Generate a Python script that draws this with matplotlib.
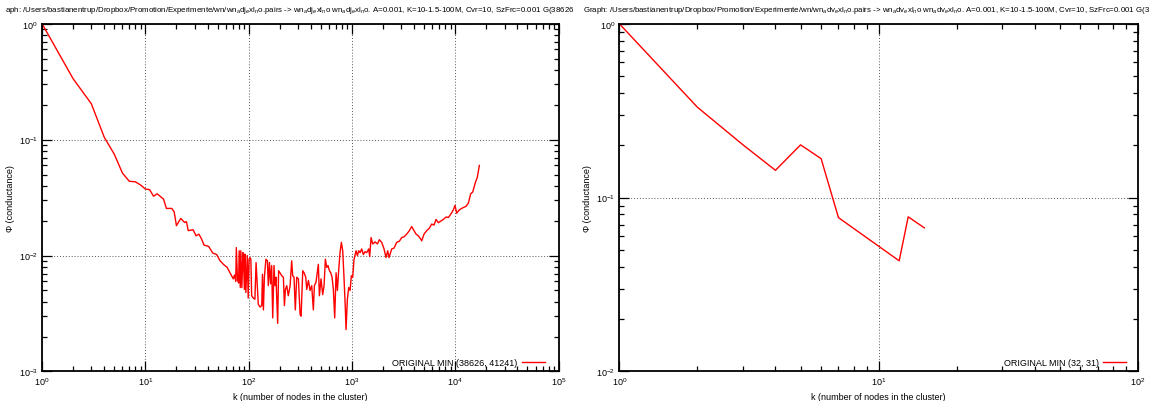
import matplotlib
matplotlib.use("Agg")
import matplotlib.pyplot as plt
import matplotlib.ticker as mticker

RED = "#ff0000"
INK = "#000000"

plt.rcParams.update({
    "font.family": ["Liberation Sans", "DejaVu Sans"],
    "mathtext.fontset": "custom",
    "mathtext.rm": "Liberation Sans",
    "mathtext.it": "Liberation Sans:italic",
    "mathtext.bf": "Liberation Sans:bold",
    "text.color": INK,
    "font.size": 6.5,
})

# left panel: adjective graph
left_k = [
    1, 2, 3, 4, 5, 6, 7, 8, 9, 10,
    11, 12, 13, 15, 16, 18, 19, 20, 22, 24,
    25, 26, 29, 31, 33, 35, 37, 41, 45, 49,
    53, 57, 62, 66, 71, 73, 75, 76, 78, 80,
    81, 83, 84, 86, 88, 89, 91, 92, 94, 97,
    99, 101, 103, 105, 107, 111, 115, 118, 124, 129,
    134, 136, 139, 142, 147, 152, 155, 159, 163, 167,
    171, 176, 180, 184, 191, 195, 201, 209, 217, 222,
    227, 234, 242, 252, 261, 267, 275, 283, 292, 303,
    315, 322, 334, 344, 357, 365, 379, 393, 408, 423,
    433, 449, 473, 484, 502, 521, 537, 553, 570, 587,
    605, 623, 642, 661, 681, 702, 723, 745, 767, 790,
    814, 839, 864, 877, 903, 930, 959, 987, 1017, 1048,
    1096, 1129, 1163, 1198, 1243, 1290, 1339, 1390, 1453, 1486,
    1531, 1589, 1673, 1763, 1843, 1941, 2045, 2138, 2219, 2286,
    2426, 2556, 2713, 2879, 3031, 3193, 3388, 3596, 3788, 3932,
    4173, 4395, 4629, 4734, 4986, 5292, 5617, 5914, 6230, 6515,
    6862, 7228, 7671, 8142, 8575, 9101, 9585, 9948, 10325, 10958,
    11803, 12719, 13395, 14109, 14750, 15537, 16366, 17115,
]
left_phi = [
    1.0, 0.335, 0.204, 0.105, 0.075, 0.0515, 0.0437, 0.0433, 0.0406, 0.0375,
    0.037, 0.0325, 0.0341, 0.0307, 0.0255, 0.0255, 0.0239, 0.0181, 0.0209, 0.0193,
    0.0196, 0.0164, 0.0167, 0.0148, 0.0153, 0.0139, 0.0123, 0.0120, 0.0105, 0.0102,
    0.0090, 0.0084, 0.0079, 0.0071, 0.0063, 0.0068, 0.0060, 0.0117, 0.0062, 0.0058,
    0.0110, 0.0053, 0.0110, 0.0053, 0.0106, 0.0093, 0.0051, 0.0103, 0.0048, 0.0100,
    0.0043, 0.0093, 0.0096, 0.0093, 0.0045, 0.0043, 0.0042, 0.0087, 0.0038, 0.0036,
    0.0037, 0.0069, 0.0034, 0.0065, 0.0093, 0.0090, 0.0055, 0.0087, 0.0057, 0.0082,
    0.0029, 0.0082, 0.0055, 0.0065, 0.0026, 0.0074, 0.0071, 0.0067, 0.0065, 0.0037,
    0.0051, 0.0055, 0.0045, 0.0055, 0.0090, 0.0067, 0.0065, 0.0034, 0.0065, 0.0063,
    0.0031, 0.0030, 0.0074, 0.0071, 0.0065, 0.0051, 0.0061, 0.0050, 0.0055, 0.0034,
    0.0055, 0.0059, 0.0084, 0.0045, 0.0063, 0.0046, 0.0055, 0.0093, 0.0079, 0.0082,
    0.0074, 0.0071, 0.0065, 0.0051, 0.0029, 0.0071, 0.0050, 0.0076, 0.0106, 0.0130,
    0.0110, 0.0063, 0.0034, 0.0023, 0.0042, 0.0053, 0.0050, 0.0067, 0.0065, 0.0093,
    0.0110, 0.0100, 0.0110, 0.0106, 0.0114, 0.0102, 0.0108, 0.0106, 0.0114, 0.0098,
    0.0143, 0.0126, 0.0131, 0.0126, 0.0137, 0.0130, 0.0114, 0.0096, 0.0110, 0.0096,
    0.0114, 0.0116, 0.0130, 0.0133, 0.0143, 0.0145, 0.0153, 0.0164, 0.0178, 0.0168,
    0.0153, 0.0148, 0.0139, 0.0134, 0.0153, 0.0164, 0.0172, 0.0187, 0.0183, 0.0205,
    0.0192, 0.0198, 0.0205, 0.0215, 0.0213, 0.0229, 0.0248, 0.0271, 0.0232, 0.0248,
    0.0258, 0.0266, 0.0283, 0.0341, 0.0353, 0.0416, 0.0475, 0.0599,
]
left_title = (r"aph: /Users/bastianentrup/Dropbox/Promotion/Experimente/wn/"
              r"wn$_a$dj$_e$xl$_n$o.pairs -> wn$_a$dj$_e$xl$_n$o wn$_a$dj$_e$xl$_n$o. "
              r"A=0.001, K=10-1.5-100M, Cvr=10, SzFrc=0.001 G(38626")
left_label = "ORIGINAL MIN (38626, 41241)"

# right panel: adverb graph
right_k = [1, 2, 3, 4, 5, 6, 7, 12, 13, 15]
right_phi = [1.0, 0.331, 0.201, 0.1435, 0.201, 0.1675, 0.0767, 0.0433, 0.0775, 0.067]
right_title = (r"Graph: /Users/bastianentrup/Dropbox/Promotion/Experimente/wn/"
               r"wn$_a$dv$_e$xl$_n$o.pairs -> wn$_a$dv$_e$xl$_n$o wn$_a$dv$_e$xl$_n$o. "
               r"A=0.001, K=10-1.5-100M, Cvr=10, SzFrc=0.001 G(3")
right_label = "ORIGINAL MIN (32, 31)"

XLABEL = "k (number of nodes in the cluster)"
YLABEL = "\u03a6 (conductance)"


def _logfmt(v, _pos=None):
    import math
    e = int(round(math.log10(v)))
    return r"$10^{%d}$" % e


def _style(ax, xlim, ylim):
    ax.set_xscale("log")
    ax.set_yscale("log")
    ax.set_xlim(*xlim)
    ax.set_ylim(*ylim)
    for s in ax.spines.values():
        s.set_linewidth(1.3)
    ax.xaxis.set_major_locator(mticker.LogLocator(base=10, numticks=20))
    ax.yaxis.set_major_locator(mticker.LogLocator(base=10, numticks=20))
    ax.xaxis.set_minor_locator(mticker.LogLocator(base=10, subs=range(2, 10), numticks=20))
    ax.yaxis.set_minor_locator(mticker.LogLocator(base=10, subs=range(2, 10), numticks=20))
    ax.xaxis.set_minor_formatter(mticker.NullFormatter())
    ax.yaxis.set_minor_formatter(mticker.NullFormatter())
    ax.xaxis.set_major_formatter(mticker.FuncFormatter(_logfmt))
    ax.yaxis.set_major_formatter(mticker.FuncFormatter(_logfmt))
    ax.tick_params(which="both", direction="in", top=True, right=True, width=0.9, labelsize=6.5)
    ax.tick_params(which="major", length=7, pad=3)
    ax.tick_params(which="minor", length=3.5)
    ax.grid(which="major", color="#555555", linestyle=(0, (1, 2)), linewidth=0.7)
    ax.set_xlabel(XLABEL, fontsize=6.5, labelpad=3)
    ax.set_ylabel(YLABEL, fontsize=6.5, labelpad=3)


fig = plt.figure(figsize=(11.61, 4.02), dpi=100)
ax1 = fig.add_axes([0.0362, 0.0734, 0.4449, 0.8652])
ax2 = fig.add_axes([0.5334, 0.0734, 0.4468, 0.8652])

ax1.plot(left_k, left_phi, color=RED, linewidth=1.0, label=left_label)
_style(ax1, (1, 1e5), (1e-3, 1))

ax2.plot(right_k, right_phi, color=RED, linewidth=1.0, label=right_label)
_style(ax2, (1, 100), (1e-2, 1))

legend_kw = dict(loc="lower right", frameon=False, fontsize=6.5, markerfirst=False,
                 handlelength=2.6, handletextpad=0.5, borderaxespad=0.3, borderpad=0.2)
ax1.legend(bbox_to_anchor=(1 - 9 / 516, 0.0), **legend_kw)
ax2.legend(bbox_to_anchor=(1 - 7 / 518, 0.0), **legend_kw)

fig.text(5 / 1161, 1 - 10 / 402, left_title, ha="left", va="center", fontsize=5.7)
fig.text(583 / 1161, 1 - 10 / 402, right_title, ha="left", va="center", fontsize=5.7)

fig.savefig("out.png", dpi=100, facecolor="white")
